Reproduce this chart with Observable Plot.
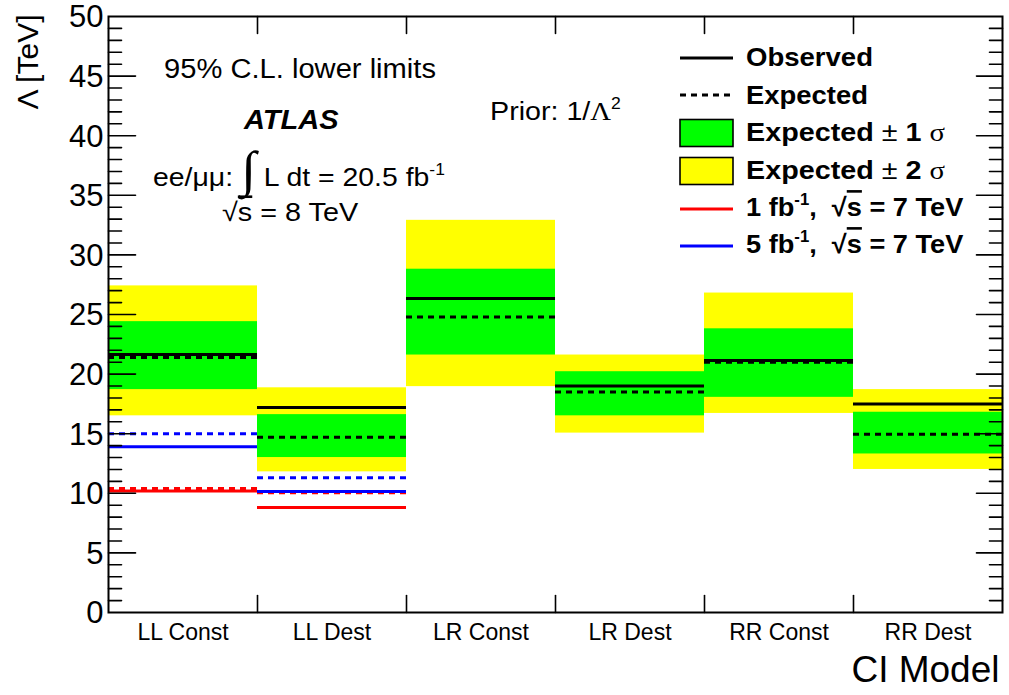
<!DOCTYPE html>
<html><head><meta charset="utf-8">
<script src="https://cdn.jsdelivr.net/npm/d3@7"></script>
<script src="https://cdn.jsdelivr.net/npm/@observablehq/plot@0.6"></script>
<style>
html,body{margin:0;padding:0;background:#fff;}
#chart svg{display:block;}
</style></head><body><div id="chart"></div>
<script>
// ---- data ----
const categories = ["LL Const", "LL Dest", "LR Const", "LR Dest", "RR Const", "RR Dest"];
const observed   = [21.65, 17.2, 26.35, 19.0, 21.15, 17.5];
const expected   = [21.4, 14.7, 24.8, 18.5, 21.0, 14.95];
const band1Low   = [18.7, 13.0, 21.6, 16.5, 18.05, 13.3];
const band1High  = [24.4, 16.6, 28.8, 20.2, 23.8, 16.8];
const band2Low   = [16.5, 11.8, 18.95, 15.05, 16.7, 12.0];
const band2High  = [27.4, 18.85, 32.9, 21.6, 26.8, 18.7];
const obs1fb7TeV = [10.2, 8.8, null, null, null, null];
const exp1fb7TeV = [10.4, 10.05, null, null, null, null];
const obs5fb7TeV = [13.9, 10.15, null, null, null, null];
const exp5fb7TeV = [15.0, 11.3, null, null, null, null];
const yTickLabels = [0, 5, 10, 15, 20, 25, 30, 35, 40, 45, 50];

const FONT = "'Liberation Sans', Arial, Helvetica, sans-serif";
const SERIF = "'Liberation Serif', 'Times New Roman', serif";

const rows = categories.map((c, i) => ({
  cat: c, i,
  obs: observed[i], exp: expected[i],
  b1lo: band1Low[i], b1hi: band1High[i],
  b2lo: band2Low[i], b2hi: band2High[i],
  obs1: obs1fb7TeV[i], exp1: exp1fb7TeV[i],
  obs5: obs5fb7TeV[i], exp5: exp5fb7TeV[i]
}));
const prev = rows.filter(d => d.obs1 != null);
const xCenters = categories.map((c, i) => i + 0.5);
const boundaries = d3.range(1, categories.length);
const yMajorInner = yTickLabels.slice(1, -1);
const yMinor = d3.range(yTickLabels[0], yTickLabels[yTickLabels.length - 1]).filter(v => v % 5 !== 0);

const tickShape = {draw(ctx, l) { ctx.moveTo(0, 0); ctx.lineTo(0, -l); }};
const x2 = d => d.i + 1;
const DASH = "6,5";

const tickMark = (data, opts) => Plot.vector(data, {anchor: "start", shape: tickShape, stroke: "black", strokeWidth: 1.6, ...opts});

const chart = Plot.plot({
  width: 1009, height: 695,
  marginLeft: 108, marginRight: 7, marginTop: 16, marginBottom: 83,
  x: {type: "linear", domain: [0, categories.length], axis: null},
  y: {domain: [0, 50], axis: null},
  style: {fontFamily: FONT, background: "white", color: "black", overflow: "visible"},
  marks: [
    Plot.rect(rows, {x1: "i", x2, y1: "b2lo", y2: "b2hi", fill: "#ffff00"}),
    Plot.rect(rows, {x1: "i", x2, y1: "b1lo", y2: "b1hi", fill: "#00ff00"}),
    Plot.ruleY(prev, {y: "exp1", x1: "i", x2, stroke: "#ff0000", strokeWidth: 3, strokeDasharray: DASH}),
    Plot.ruleY(prev, {y: "obs1", x1: "i", x2, stroke: "#ff0000", strokeWidth: 3}),
    Plot.ruleY(prev, {y: "exp5", x1: "i", x2, stroke: "#0000ff", strokeWidth: 3, strokeDasharray: DASH}),
    Plot.ruleY(prev, {y: "obs5", x1: "i", x2, stroke: "#0000ff", strokeWidth: 3}),
    Plot.ruleY(rows, {y: "obs", x1: "i", x2, stroke: "black", strokeWidth: 3}),
    Plot.ruleY(rows, {y: "exp", x1: "i", x2, stroke: "black", strokeWidth: 3, strokeDasharray: DASH}),
    // inward ticks
    tickMark(yMajorInner, {y: d => d, frameAnchor: "left", rotate: 90, length: 27}),
    tickMark(yMinor, {y: d => d, frameAnchor: "left", rotate: 90, length: 13}),
    tickMark(yMajorInner, {y: d => d, frameAnchor: "right", rotate: -90, length: 26}),
    tickMark(yMinor, {y: d => d, frameAnchor: "right", rotate: -90, length: 13}),
    tickMark(boundaries, {x: d => d, frameAnchor: "bottom", rotate: 0, length: 17}),
    tickMark(boundaries, {x: d => d, frameAnchor: "top", rotate: 180, length: 17}),
    Plot.frame({stroke: "black", strokeWidth: 2}),
    Plot.axisY(yTickLabels, {anchor: "left", tickSize: 0, tickPadding: 5, fontSize: 31, dy: 1, label: null}),
    Plot.axisX(xCenters, {anchor: "bottom", tickSize: 0, tickPadding: 11, fontSize: 23,
      tickFormat: d => categories[Math.floor(d)], label: null}),
    Plot.text(["Λ [TeV]"], {frameAnchor: "top-left", text: d => d, dx: -80, dy: -2, rotate: -90,
      textAnchor: "end", lineAnchor: "middle", fontSize: 30}),
    Plot.text(["CI Model"], {frameAnchor: "bottom-right", text: d => d, dx: -3, dy: 58,
      textAnchor: "end", lineAnchor: "middle", fontSize: 37})
  ]
});
document.getElementById("chart").appendChild(chart);

// ---- annotations and legend (text with tspans) ----
const svg = d3.select(chart);
const layer = svg.append("g").attr("class", "annotations");

function addText({x, y, parts, size, weight = "normal", style = "normal", anchor = "start", width = null, family = FONT}) {
  const g = layer.append("g");
  const t = g.append("text").attr("font-family", family).attr("font-size", size)
    .attr("font-weight", weight).attr("font-style", style).attr("fill", "black");
  let shift = 0;
  for (const p of parts) {
    const s = t.append("tspan").text(p.t);
    if (p.size) s.attr("font-size", p.size);
    if (p.family) s.attr("font-family", p.family);
    if (p.weight) s.attr("font-weight", p.weight);
    if (p.style) s.attr("font-style", p.style);
    if (p.deco) s.style("text-decoration", p.deco);
    const sh = p.sup || 0;
    if (sh !== shift) { s.attr("dy", -(sh - shift)); shift = sh; }
    if (p.dx) s.attr("dx", p.dx);
  }
  const bb = t.node().getBBox();
  const sx = width ? width / bb.width : 1;
  let left = x;
  if (anchor === "middle") left = x - bb.width * sx / 2;
  if (anchor === "end") left = x - bb.width * sx;
  g.attr("transform", `translate(${left - bb.x * sx},${y}) scale(${sx},1)`);
  return g;
}

// annotations
addText({x: 164, y: 77.5, size: 27, width: 272, parts: [{t: "95% C.L. lower limits"}]});
addText({x: 243, y: 128.5, size: 28, weight: "bold", style: "italic", width: 96, parts: [{t: "ATLAS"}]});
addText({x: 153, y: 186, size: 26, width: 292, parts: [
  {t: "ee/μμ: "}, {t: "∫", size: 50, family: "'DejaVu Sans'", weight: 200}, {t: " L dt = 20.5 fb"}, {t: "-1", size: 16, sup: 11}
]});
addText({x: 222, y: 221, size: 26, width: 137, parts: [
  {t: "√"}, {t: "s", deco: "overline"}, {t: " = 8 TeV"}
]});
addText({x: 490, y: 120, size: 26, width: 131, parts: [
  {t: "Prior: 1/"}, {t: "Λ", family: SERIF}, {t: "2", size: 16, sup: 11}
]});

// legend
const lx1 = 680, lx2 = 733, tx = 746;
layer.append("line").attr("x1", lx1).attr("x2", lx2).attr("y1", 58).attr("y2", 58)
  .attr("stroke", "black").attr("stroke-width", 3);
layer.append("line").attr("x1", lx1).attr("x2", lx2).attr("y1", 95).attr("y2", 95)
  .attr("stroke", "black").attr("stroke-width", 3).attr("stroke-dasharray", DASH);
layer.append("rect").attr("x", lx1).attr("y", 119.5).attr("width", lx2 - lx1).attr("height", 27)
  .attr("fill", "#00ff00").attr("stroke", "black").attr("stroke-width", 1.6);
layer.append("rect").attr("x", lx1).attr("y", 157.5).attr("width", lx2 - lx1).attr("height", 27)
  .attr("fill", "#ffff00").attr("stroke", "black").attr("stroke-width", 1.6);
layer.append("line").attr("x1", lx1).attr("x2", lx2).attr("y1", 209).attr("y2", 209)
  .attr("stroke", "#ff0000").attr("stroke-width", 3);
layer.append("line").attr("x1", lx1).attr("x2", lx2).attr("y1", 246).attr("y2", 246)
  .attr("stroke", "#0000ff").attr("stroke-width", 3);

const LS = 26;
addText({x: tx, y: 66, size: LS, weight: "bold", width: 127, parts: [{t: "Observed"}]});
addText({x: tx, y: 103.5, size: LS, weight: "bold", width: 122, parts: [{t: "Expected"}]});
addText({x: tx, y: 141, size: LS, weight: "bold", width: 199, parts: [
  {t: "Expected "}, {t: "±", weight: "normal"}, {t: " 1 "}, {t: "σ", family: SERIF, weight: "normal"}
]});
addText({x: tx, y: 178.5, size: LS, weight: "bold", width: 199, parts: [
  {t: "Expected "}, {t: "±", weight: "normal"}, {t: " 2 "}, {t: "σ", family: SERIF, weight: "normal"}
]});
addText({x: tx, y: 215.5, size: LS, weight: "bold", width: 218, parts: [
  {t: "1 fb"}, {t: "-1", size: 16, sup: 11}, {t: ",  √"}, {t: "s", deco: "overline"}, {t: " = 7 TeV"}
]});
addText({x: tx, y: 252.5, size: LS, weight: "bold", width: 218, parts: [
  {t: "5 fb"}, {t: "-1", size: 16, sup: 11}, {t: ",  √"}, {t: "s", deco: "overline"}, {t: " = 7 TeV"}
]});
</script>
</body></html>
